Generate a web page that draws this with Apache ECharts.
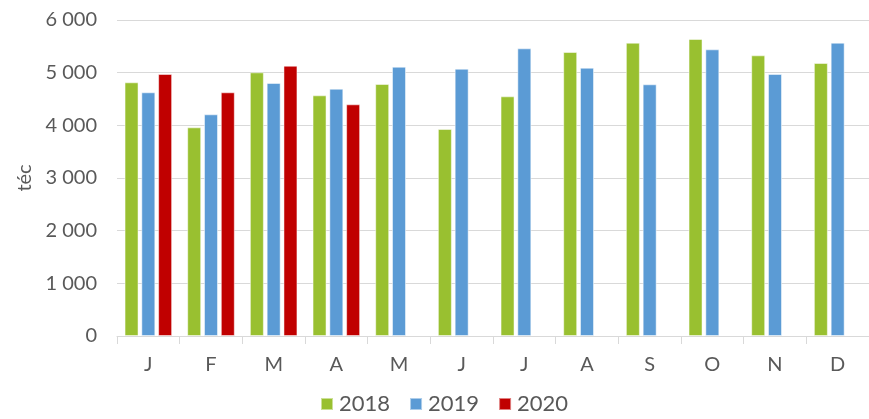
<!DOCTYPE html>
<html>
<head>
<meta charset="utf-8">
<script src="https://cdn.jsdelivr.net/npm/echarts@6/dist/echarts.min.js"></script>
<style>
  html, body { margin: 0; padding: 0; background: #fff; }
  #main { width: 869px; height: 419px; }
</style>
</head>
<body>
<div id="main"></div>
<script>
var months = ['J', 'F', 'M', 'A', 'M', 'J', 'J', 'A', 'S', 'O', 'N', 'D'];
var v2018 = [4817, 3962, 5006, 4570, 4785, 3930, 4551, 5392, 5569, 5639, 5329, 5183];
var v2019 = [4627, 4209, 4804, 4695, 5113, 5075, 5462, 5094, 4779, 5443, 4975, 5569];
var v2020 = [4975, 4627, 5132, 4399, null, null, null, null, null, null, null, null];

var font = 'Lato';
var txt = '#595959';

function fmt(v) {
    return String(v).replace(/\B(?=(\d{3})+(?!\d))/g, ' ');
}

function bar(name, data, color) {
    return {
        name: name,
        type: 'bar',
        data: data,
        barWidth: 14,
        barGap: '20%',
        itemStyle: { color: color, borderColor: 'rgba(255,255,255,0.5)', borderWidth: 1 }
    };
}

var myChart = echarts.init(document.getElementById('main'));
var option = {
    animation: false,
    textStyle: { fontFamily: font },
    grid: { left: 117, right: 0, top: 20, bottom: 83 },
    legend: {
        bottom: -1,
        left: 315,
        itemWidth: 12,
        itemHeight: 12,
        itemGap: 19,
        icon: 'rect',
        textStyle: { color: txt, fontSize: 22, fontFamily: font, padding: [0, 0, 0, 1] },
        data: ['2018', '2019', '2020']
    },
    xAxis: {
        type: 'category',
        data: months,
        axisLine: { lineStyle: { color: '#d9d9d9' } },
        axisTick: { show: true, length: 8, lineStyle: { color: '#d9d9d9' } },
        axisLabel: { color: txt, fontSize: 20, margin: 19, fontFamily: font }
    },
    yAxis: {
        type: 'value',
        min: 0,
        max: 6000,
        interval: 1000,
        name: 'téc',
        nameLocation: 'middle',
        nameGap: 78,
        nameRotate: 90,
        nameTextStyle: { color: txt, fontSize: 20, fontFamily: font },
        axisLine: { show: false },
        axisTick: { show: false },
        axisLabel: { color: txt, fontSize: 20, margin: 20, fontFamily: font, formatter: fmt },
        splitLine: { lineStyle: { color: '#d9d9d9', width: 1 } }
    },
    series: [
        bar('2018', v2018, '#99c030'),
        bar('2019', v2019, '#5b9bd5'),
        bar('2020', v2020, '#c00000')
    ]
};
myChart.setOption(option);
window.addEventListener('resize', function () {
    myChart.resize();
});
</script>
</body>
</html>
